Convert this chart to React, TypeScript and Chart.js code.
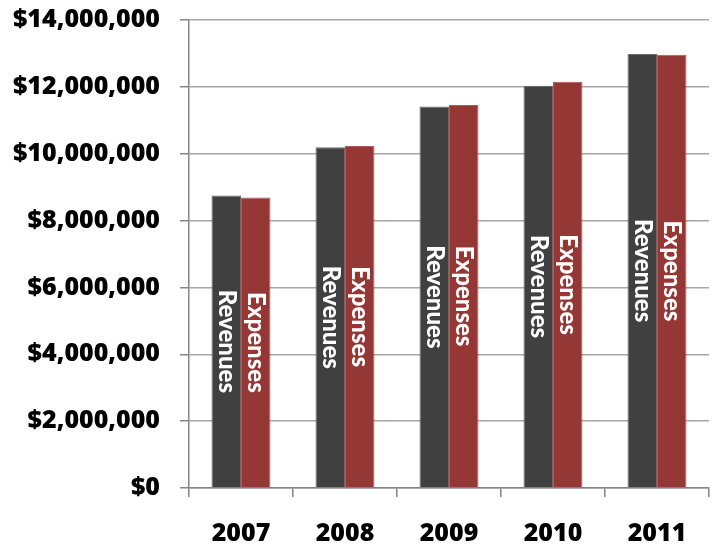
import React, { useEffect, useRef } from "react";
import { Chart, registerables } from "chart.js";

Chart.register(...registerables);

const categories = ["2007", "2008", "2009", "2010", "2011"];
const revenues = [8750000, 10190000, 11410000, 12030000, 12980000];
const expenses = [8690000, 10230000, 11460000, 12150000, 12960000];
const seriesNames = ["Revenues", "Expenses"];
const yMin = 0;
const yMax = 14000000;
const yStep = 2000000;

const TICK_FONT = "'Open Sans', Lato, sans-serif";
const BAR_FONT = "Lato, 'Open Sans', sans-serif";

const barLabelPlugin = {
  id: "barLabels",
  afterDatasetsDraw(chart: any) {
    const ctx = chart.ctx;
    chart.data.datasets.forEach((ds: any, i: number) => {
      const meta = chart.getDatasetMeta(i);
      meta.data.forEach((bar: any) => {
        const { x, y, base } = bar.getProps(["x", "y", "base"], true);
        ctx.save();
        ctx.translate(x, (y + base) / 2);
        ctx.rotate(Math.PI / 2);
        ctx.fillStyle = "#ffffff";
        ctx.font = `900 24px ${BAR_FONT}`;
        ctx.textAlign = "center";
        ctx.textBaseline = "middle";
        ctx.fillText(ds.label, 0, 0);
        ctx.restore();
      });
    });
  },
};

export default function App() {
  const ref = useRef<HTMLCanvasElement | null>(null);

  useEffect(() => {
    document.body.style.margin = "0";
    if (!ref.current) return;
    const chart = new Chart(ref.current, {
      type: "bar",
      data: {
        labels: categories,
        datasets: [
          {
            label: seriesNames[0],
            data: revenues,
            backgroundColor: "#404040",
            borderColor: "#6a6a6a",
            borderWidth: 1,
          },
          {
            label: seriesNames[1],
            data: expenses,
            backgroundColor: "#953735",
            borderColor: "#b05a58",
            borderWidth: 1,
          },
        ],
      },
      options: {
        animation: false,
        responsive: false,
        maintainAspectRatio: false,
        layout: { autoPadding: false, padding: { top: 20, right: 6, left: 0, bottom: 0 } },
        plugins: {
          legend: { display: false },
          tooltip: { enabled: false },
          title: { display: false },
        },
        datasets: {
          bar: { categoryPercentage: 0.567, barPercentage: 1.0 },
        },
        scales: {
          x: {
            afterFit(scale: any) {
              scale.height = 62;
              scale.paddingLeft = 0;
              scale.paddingRight = 0;
            },
            grid: {
              display: true,
              drawOnChartArea: false,
              drawTicks: true,
              tickLength: 9,
              color: "#868686",
              lineWidth: 1.5,
            },
            border: { display: true, color: "#868686", width: 1.5 },
            ticks: {
              color: "#000000",
              padding: 22,
              font: { family: TICK_FONT, size: 25, weight: "800" },
            },
          },
          y: {
            min: yMin,
            max: yMax,
            afterFit(scale: any) {
              scale.width = 189;
              scale.paddingTop = 0;
              scale.paddingBottom = 0;
            },
            grid: {
              color: "#a6a6a6",
              lineWidth: 1.5,
              tickLength: 9,
              tickColor: "#868686",
            },
            border: { display: true, color: "#868686", width: 1.5 },
            ticks: {
              stepSize: yStep,
              color: "#000000",
              padding: 20,
              font: { family: TICK_FONT, size: 25, weight: "800" },
              callback: (v: any) => "$" + Number(v).toLocaleString("en-US"),
            },
          },
        },
      },
      plugins: [barLabelPlugin],
    });
    return () => chart.destroy();
  }, []);

  return (
    <div style={{ position: "absolute", left: 0, top: 0, width: 715, height: 550, background: "#fff" }}>
      <canvas ref={ref} width={715} height={550} style={{ width: 715, height: 550, display: "block" }} />
    </div>
  );
}
